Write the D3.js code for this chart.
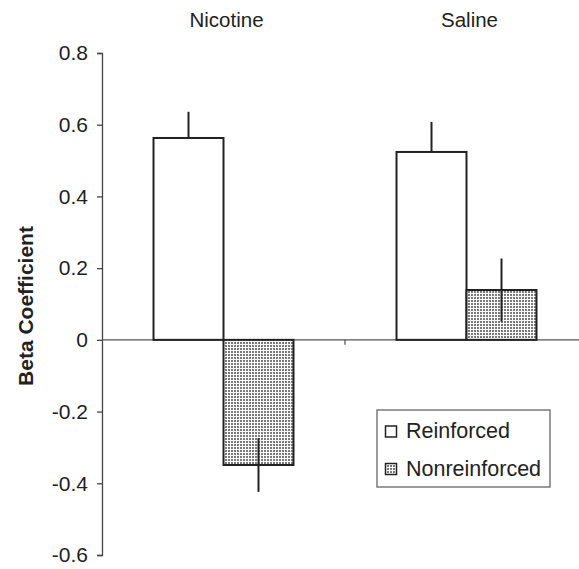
<!DOCTYPE html>
<html><head><meta charset="utf-8">
<script src="https://cdn.jsdelivr.net/npm/d3@7"></script>
<style>body{margin:0;background:#fff}svg{display:block;font-family:"Liberation Sans",Arial,sans-serif}</style>
</head><body>
<svg id="c" width="579" height="569"></svg>
<script>
const categories = ["Nicotine", "Saline"];
const seriesNames = ["Reinforced", "Nonreinforced"];
const reinforced = [0.563, 0.524];
const reinforcedErr = [0.073, 0.084];
const nonreinforced = [-0.349, 0.139];
const nonreinforcedErr = [0.075, 0.088];
const yTicks = [-0.6, -0.4, -0.2, 0, 0.2, 0.4, 0.6, 0.8];
const yTickLabels = ["-0.6", "-0.4", "-0.2", "0", "0.2", "0.4", "0.6", "0.8"];

const svg = d3.select("#c");
const defs = svg.append("defs");
const pat = defs.append("pattern").attr("id","dots").attr("patternUnits","userSpaceOnUse")
  .attr("width",3).attr("height",3);
pat.append("rect").attr("width",3).attr("height",3).attr("fill","#fff");
pat.append("rect").attr("width",2).attr("height",2).attr("fill","#7a7a7a");

const x = d3.scaleBand().domain(categories).range([102, 588]).padding(0);
const xs = d3.scaleBand().domain(seriesNames).range([0, x.bandwidth()]).paddingInner(0).paddingOuter(0.736);
const y = d3.scaleLinear().domain([-0.6, 0.8]).range([555, 53]);

// y axis
const yAxis = d3.axisLeft(y).tickValues(yTicks).tickSize(5).tickPadding(9)
  .tickFormat((d,i)=>yTickLabels[i]);
const ga = svg.append("g").attr("transform","translate(102,0)").call(yAxis);
ga.attr("font-size",21).attr("font-family","Liberation Sans, Arial, sans-serif");
ga.select(".domain").attr("stroke","#444").attr("stroke-width",1.3);
ga.selectAll(".tick line").attr("stroke","#444").attr("stroke-width",1.3);
ga.selectAll(".tick text").attr("font-size",21).attr("fill","#222");

// zero line with category separator tick
svg.append("line").attr("x1",102).attr("x2",588).attr("y1",y(0)).attr("y2",y(0))
  .attr("stroke","#555").attr("stroke-width",1.3);
svg.append("line").attr("x1",x("Saline")).attr("x2",x("Saline")).attr("y1",y(0)).attr("y2",y(0)+5)
  .attr("stroke","#555").attr("stroke-width",1.3);

const data = categories.map((c,i)=>[
  {c, s:"Reinforced", v:reinforced[i], e:reinforcedErr[i]},
  {c, s:"Nonreinforced", v:nonreinforced[i], e:nonreinforcedErr[i]}
]).flat();

svg.selectAll(".bar").data(data).enter().append("rect")
  .attr("x", d=>x(d.c)+xs(d.s))
  .attr("width", xs.bandwidth())
  .attr("y", d=>y(Math.max(0,d.v)))
  .attr("height", d=>Math.abs(y(d.v)-y(0)))
  .attr("fill", d=>d.s==="Reinforced" ? "#fff" : "url(#dots)")
  .attr("stroke","#222").attr("stroke-width",2);

svg.selectAll(".err").data(data).enter().append("line")
  .attr("x1", d=>x(d.c)+xs(d.s)+xs.bandwidth()/2)
  .attr("x2", d=>x(d.c)+xs(d.s)+xs.bandwidth()/2)
  .attr("y1", d=> d.s==="Reinforced" ? y(d.v) : y(d.v - d.e))
  .attr("y2", d=> y(d.v + d.e))
  .attr("stroke","#222").attr("stroke-width",2);

// category labels on top
svg.selectAll(".cat").data(categories).enter().append("text")
  .attr("x", d=>x(d)+x.bandwidth()/2 + 3).attr("y",27)
  .attr("text-anchor","middle").attr("font-size",20.5).attr("fill","#222").text(d=>d);

// y label
svg.append("text").attr("transform","translate(33,306) rotate(-90)")
  .attr("text-anchor","middle").attr("font-size",21).attr("font-weight","bold").attr("fill","#222")
  .text("Beta Coefficient");

// legend
const lg = svg.append("g");
lg.append("rect").attr("x",377).attr("y",410).attr("width",173).attr("height",77)
  .attr("fill","#fff").attr("stroke","#666").attr("stroke-width",1.3);
seriesNames.forEach((s,i)=>{
  const yy = 431.5 + i*37.5;
  lg.append("rect").attr("x",385.5).attr("y",yy-5.5).attr("width",11).attr("height",11)
    .attr("fill", i===0 ? "#fff" : "url(#dots)").attr("stroke","#222").attr("stroke-width",1.5);
  lg.append("text").attr("x",406).attr("y",yy+6.5).attr("font-size",21.5).attr("fill","#222").text(s);
});
</script>
</body></html>
